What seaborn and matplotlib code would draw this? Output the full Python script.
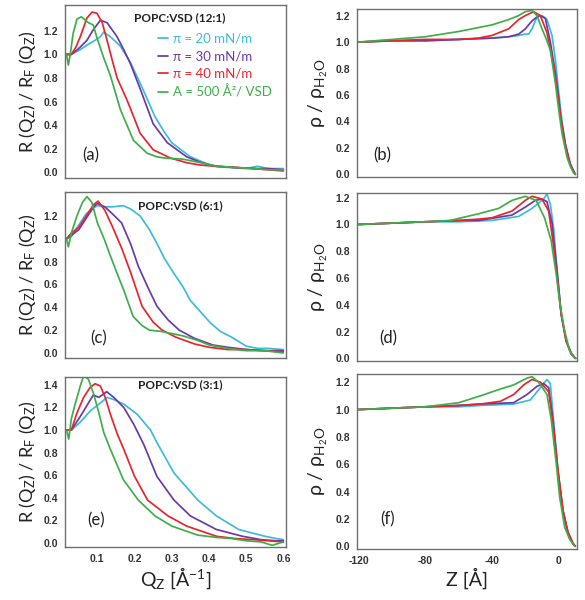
import matplotlib
matplotlib.use("Agg")
import matplotlib.pyplot as plt
import seaborn as sns
import pandas as pd

# ---------------- data ----------------
series = ["π = 20 mN/m", "π = 30 mN/m", "π = 40 mN/m", "A = 500 Å²/ VSD"]
colors = ["#3dbbdc", "#6a3aa8", "#e8252d", "#3fae4a"]
panel_titles = ["POPC:VSD (12:1)", "POPC:VSD (6:1)", "POPC:VSD (3:1)"]
left_letters = ["(a)", "(c)", "(e)"]
right_letters = ["(b)", "(d)", "(f)"]

# panel (a): reflectivity, 12:1
a_q_cyan = [0.017, 0.03, 0.054, 0.072, 0.089, 0.108, 0.117, 0.135, 0.162, 0.189, 0.207, 0.23, 0.255, 0.28, 0.3, 0.35, 0.41, 0.45, 0.5, 0.53, 0.56, 0.6]
a_r_cyan = [1.00, 1.00, 1.04, 1.08, 1.11, 1.15, 1.19, 1.15, 1.07, 0.93, 0.81, 0.65, 0.47, 0.34, 0.25, 0.13, 0.05, 0.04, 0.03, 0.05, 0.03, 0.03]
a_q_purple = [0.017, 0.03, 0.05, 0.072, 0.089, 0.108, 0.126, 0.153, 0.171, 0.189, 0.216, 0.25, 0.288, 0.34, 0.38, 0.42, 0.47, 0.52, 0.56, 0.6]
a_r_purple = [1.00, 1.00, 1.05, 1.12, 1.21, 1.29, 1.27, 1.15, 1.04, 0.92, 0.70, 0.41, 0.25, 0.13, 0.08, 0.05, 0.04, 0.03, 0.03, 0.02]
a_q_red = [0.017, 0.03, 0.042, 0.054, 0.072, 0.086, 0.099, 0.113, 0.126, 0.14, 0.153, 0.18, 0.215, 0.25, 0.296, 0.34, 0.376, 0.42, 0.466, 0.52, 0.56, 0.6]
a_r_red = [1.00, 1.00, 1.06, 1.15, 1.31, 1.36, 1.35, 1.27, 1.12, 0.95, 0.80, 0.61, 0.33, 0.19, 0.12, 0.08, 0.06, 0.05, 0.04, 0.03, 0.02, 0.01]
a_q_green = [0.017, 0.022, 0.027, 0.035, 0.045, 0.057, 0.068, 0.076, 0.089, 0.098, 0.116, 0.135, 0.162, 0.197, 0.234, 0.26, 0.28, 0.33, 0.377, 0.42, 0.466, 0.52, 0.56, 0.6]
a_r_green = [1.00, 0.91, 1.00, 1.18, 1.30, 1.32, 1.29, 1.27, 1.25, 1.15, 0.98, 0.82, 0.53, 0.27, 0.16, 0.13, 0.12, 0.11, 0.08, 0.05, 0.04, 0.03, 0.02, 0.02]

# panel (c): reflectivity, 6:1
c_q_cyan = [0.017, 0.03, 0.05, 0.07, 0.09, 0.1, 0.12, 0.14, 0.17, 0.19, 0.215, 0.24, 0.26, 0.28, 0.305, 0.33, 0.35, 0.38, 0.405, 0.43, 0.46, 0.5, 0.53, 0.56, 0.6]
c_r_cyan = [1.00, 1.02, 1.12, 1.22, 1.27, 1.29, 1.28, 1.28, 1.29, 1.26, 1.20, 1.08, 0.96, 0.83, 0.70, 0.58, 0.46, 0.35, 0.26, 0.19, 0.14, 0.06, 0.04, 0.04, 0.03]
c_q_purple = [0.017, 0.03, 0.05, 0.07, 0.09, 0.1, 0.12, 0.14, 0.165, 0.19, 0.21, 0.235, 0.26, 0.29, 0.32, 0.36, 0.41, 0.45, 0.5, 0.55, 0.6]
c_r_purple = [1.00, 1.03, 1.08, 1.18, 1.28, 1.31, 1.28, 1.22, 1.14, 0.95, 0.76, 0.58, 0.41, 0.29, 0.20, 0.13, 0.07, 0.05, 0.03, 0.02, 0.02]
c_q_red = [0.017, 0.03, 0.05, 0.07, 0.09, 0.102, 0.12, 0.14, 0.165, 0.19, 0.22, 0.25, 0.274, 0.31, 0.36, 0.4, 0.45, 0.5, 0.55, 0.6]
c_r_red = [1.00, 1.05, 1.10, 1.20, 1.30, 1.33, 1.25, 1.11, 0.92, 0.70, 0.41, 0.27, 0.20, 0.14, 0.08, 0.05, 0.03, 0.03, 0.02, 0.01]
c_q_green = [0.017, 0.022, 0.03, 0.045, 0.06, 0.072, 0.085, 0.1, 0.118, 0.135, 0.155, 0.171, 0.196, 0.22, 0.24, 0.27, 0.3, 0.33, 0.37, 0.4, 0.45, 0.5, 0.55, 0.6]
c_r_green = [1.00, 0.93, 1.05, 1.20, 1.32, 1.37, 1.32, 1.14, 1.00, 0.85, 0.68, 0.55, 0.32, 0.24, 0.20, 0.19, 0.17, 0.15, 0.11, 0.07, 0.04, 0.02, 0.02, 0.00]

# panel (e): reflectivity, 3:1
e_q_cyan = [0.017, 0.03, 0.054, 0.081, 0.108, 0.126, 0.144, 0.171, 0.207, 0.243, 0.26, 0.306, 0.37, 0.42, 0.48, 0.55, 0.58, 0.6]
e_r_cyan = [1.00, 1.00, 1.07, 1.17, 1.24, 1.29, 1.27, 1.23, 1.14, 1.00, 0.89, 0.62, 0.38, 0.24, 0.12, 0.06, 0.04, 0.03]
e_q_purple = [0.017, 0.03, 0.054, 0.076, 0.089, 0.1035, 0.117, 0.125, 0.144, 0.171, 0.198, 0.225, 0.26, 0.306, 0.35, 0.42, 0.49, 0.54, 0.58, 0.6]
e_r_purple = [1.00, 1.00, 1.12, 1.24, 1.31, 1.29, 1.32, 1.34, 1.29, 1.20, 1.05, 0.87, 0.59, 0.38, 0.24, 0.12, 0.06, 0.03, 0.02, 0.02]
e_q_red = [0.017, 0.03, 0.045, 0.063, 0.081, 0.094, 0.108, 0.121, 0.135, 0.153, 0.171, 0.2, 0.235, 0.29, 0.34, 0.42, 0.47, 0.52, 0.56, 0.6]
e_r_red = [1.00, 1.00, 1.15, 1.29, 1.38, 1.41, 1.39, 1.29, 1.14, 0.97, 0.83, 0.59, 0.38, 0.24, 0.15, 0.06, 0.04, 0.03, 0.02, 0.01]
e_q_green = [0.017, 0.023, 0.03, 0.041, 0.054, 0.063, 0.076, 0.089, 0.1035, 0.117, 0.135, 0.17, 0.21, 0.255, 0.3, 0.37, 0.42, 0.46, 0.5, 0.54, 0.57, 0.6]
e_r_green = [1.00, 0.92, 1.10, 1.24, 1.39, 1.48, 1.45, 1.33, 1.16, 0.98, 0.83, 0.56, 0.38, 0.24, 0.15, 0.07, 0.05, 0.04, 0.02, 0.01, -0.02, 0.01]

# panel (b): density, 12:1
b_z_cyan = [-120, -100, -80, -60, -40, -30, -24, -20, -18, -16, -13, -10, -7, -4, -2, 0, 2, 4, 6, 8, 10]
b_d_cyan = [1.00, 1.01, 1.01, 1.02, 1.03, 1.04, 1.05, 1.06, 1.06, 1.10, 1.19, 1.20, 1.17, 1.05, 0.87, 0.62, 0.40, 0.23, 0.11, 0.04, 0.00]
b_z_purple = [-120, -100, -80, -60, -40, -30, -24, -20, -16, -13, -11, -8, -5, -2, 0, 1, 4, 7, 10]
b_d_purple = [1.00, 1.01, 1.01, 1.02, 1.03, 1.04, 1.06, 1.10, 1.16, 1.19, 1.20, 1.18, 1.00, 0.77, 0.58, 0.45, 0.23, 0.08, 0.00]
b_z_red = [-120, -100, -80, -60, -48, -40, -36, -30, -24, -20, -15, -11, -7, -3, 0, 2, 4, 6, 8, 10]
b_d_red = [1.00, 1.01, 1.02, 1.02, 1.03, 1.05, 1.07, 1.10, 1.17, 1.20, 1.23, 1.20, 1.07, 0.82, 0.55, 0.36, 0.22, 0.11, 0.04, 0.00]
b_z_green = [-120, -100, -80, -60, -48, -40, -30, -24, -20, -16, -13, -10, -8, -5, -2, 0, 2, 5, 7, 9, 10]
b_d_green = [1.00, 1.02, 1.04, 1.08, 1.11, 1.13, 1.17, 1.20, 1.23, 1.24, 1.20, 1.10, 1.04, 0.94, 0.69, 0.49, 0.31, 0.13, 0.06, 0.01, 0.00]

# panel (d): density, 6:1
d_z_cyan = [-120, -100, -80, -60, -40, -24, -16, -9, -7, -5, -3, -1, 1.5, 4.5, 7.5, 10]
d_d_cyan = [1.00, 1.01, 1.02, 1.02, 1.03, 1.06, 1.12, 1.19, 1.23, 1.15, 0.97, 0.66, 0.33, 0.13, 0.04, 0.00]
d_z_purple = [-120, -100, -80, -60, -48, -28, -20, -14, -10, -7, -4, -1, 1.5, 4.5, 7.5, 10]
d_d_purple = [1.00, 1.01, 1.02, 1.03, 1.03, 1.07, 1.13, 1.18, 1.19, 1.17, 1.01, 0.66, 0.33, 0.13, 0.04, 0.00]
d_z_red = [-120, -100, -80, -60, -48, -40, -28, -20, -16, -10, -6, -3.5, -0.5, 1.5, 4.5, 7.5, 10]
d_d_red = [1.00, 1.01, 1.02, 1.03, 1.04, 1.05, 1.10, 1.18, 1.21, 1.19, 1.10, 0.88, 0.56, 0.33, 0.13, 0.03, 0.00]
d_z_green = [-120, -100, -80, -65, -60, -48, -36, -28, -20, -13.5, -8.5, -4.5, -1.5, 0.5, 3.5, 6.5, 9.5, 10.5]
d_d_green = [1.00, 1.01, 1.02, 1.03, 1.045, 1.08, 1.12, 1.18, 1.21, 1.18, 1.05, 0.88, 0.63, 0.43, 0.21, 0.06, 0.00, 0.00]

# panel (f): density, 3:1
f_z_cyan = [-120, -100, -80, -60, -47, -27, -17, -11, -7, -5, -3.4, -0.4, 2.6, 5.6, 8.6, 10]
f_d_cyan = [1.00, 1.01, 1.02, 1.02, 1.03, 1.04, 1.07, 1.16, 1.22, 1.19, 0.97, 0.55, 0.26, 0.10, 0.02, 0.00]
f_z_purple = [-120, -100, -80, -60, -47, -27, -19, -13, -9, -6, -3.4, -0.4, 2.6, 5.6, 8.6, 10]
f_d_purple = [1.00, 1.01, 1.02, 1.03, 1.04, 1.05, 1.11, 1.17, 1.19, 1.16, 0.92, 0.55, 0.26, 0.10, 0.02, 0.00]
f_z_red = [-120, -100, -80, -60, -47, -35, -27, -21, -16, -11, -6, -3.4, -0.4, 2.6, 5.6, 8.6, 10]
f_d_red = [1.00, 1.01, 1.02, 1.03, 1.04, 1.06, 1.11, 1.18, 1.22, 1.20, 1.13, 0.90, 0.55, 0.26, 0.10, 0.02, 0.00]
f_z_green = [-120, -100, -80, -60, -47, -35, -27, -19, -16, -12, -7, -4.4, -1.4, 0.6, 3.6, 6.6, 9.6]
f_d_green = [1.00, 1.01, 1.02, 1.05, 1.10, 1.15, 1.18, 1.23, 1.24, 1.20, 1.11, 0.92, 0.60, 0.36, 0.14, 0.05, 0.00]

left_ticks_x = [0.1, 0.2, 0.3, 0.4, 0.5, 0.6]
right_ticks_x = [-120, -80, -40, 0]
right_minor_x = [-100, -60, -20]


def long_frame(pairs):
    frames = []
    for name, (xs, ys) in zip(series, pairs):
        frames.append(pd.DataFrame({"x": xs, "y": ys, "series": name}))
    return pd.concat(frames, ignore_index=True)


left_data = [
    long_frame([(a_q_cyan, a_r_cyan), (a_q_purple, a_r_purple), (a_q_red, a_r_red), (a_q_green, a_r_green)]),
    long_frame([(c_q_cyan, c_r_cyan), (c_q_purple, c_r_purple), (c_q_red, c_r_red), (c_q_green, c_r_green)]),
    long_frame([(e_q_cyan, e_r_cyan), (e_q_purple, e_r_purple), (e_q_red, e_r_red), (e_q_green, e_r_green)]),
]
right_data = [
    long_frame([(b_z_cyan, b_d_cyan), (b_z_purple, b_d_purple), (b_z_red, b_d_red), (b_z_green, b_d_green)]),
    long_frame([(d_z_cyan, d_d_cyan), (d_z_purple, d_d_purple), (d_z_red, d_d_red), (d_z_green, d_d_green)]),
    long_frame([(f_z_cyan, f_d_cyan), (f_z_purple, f_d_purple), (f_z_red, f_d_red), (f_z_green, f_d_green)]),
]

# ---------------- style ----------------
sns.set_style("white")
plt.rcParams["font.family"] = ["Lato", "DejaVu Sans"]
plt.rcParams["mathtext.default"] = "regular"
palette = dict(zip(series, colors))
spine_col = "#6e6e6e"
tick_font = dict(family=["Liberation Sans", "DejaVu Sans"], size=7.5, weight="bold")

fig = plt.figure(figsize=(5.85, 6.0), dpi=100)
W, H = 585.0, 600.0

left_boxes = [(65, 5, 286, 178), (65, 192, 286, 358), (65, 377, 286, 547)]
right_boxes = [(357, 9, 577, 177), (357, 193, 577, 361), (357, 374, 577, 549)]
left_ylims = [(-0.05, 1.42), (-0.044, 1.41), (-0.035, 1.47)]
right_ylims = [(-0.02, 1.25), (-0.02, 1.235), (-0.02, 1.26)]
title_y = [0.925, 0.92, 0.955]
left_letter_pos = [(0.115, 0.13), (0.15, 0.12), (0.14, 0.155)]
right_letter_pos = [(0.115, 0.13), (0.14, 0.135), (0.14, 0.17)]


def add_ax(box):
    x0, y0, x1, y1 = box
    return fig.add_axes([x0 / W, 1 - y1 / H, (x1 - x0) / W, (y1 - y0) / H])


def style_ax(ax):
    for s in ax.spines.values():
        s.set_visible(True)
        s.set_color(spine_col)
        s.set_linewidth(1.0)
    ax.tick_params(direction="out", length=3, width=0.9, color=spine_col,
                   labelcolor="#333333", pad=2)
    for lab in ax.get_xticklabels() + ax.get_yticklabels():
        lab.set_fontfamily(tick_font["family"])
        lab.set_fontsize(tick_font["size"])
        lab.set_fontweight(tick_font["weight"])


for i in range(3):
    # ---------- left: reflectivity ----------
    ax = add_ax(left_boxes[i])
    sns.lineplot(data=left_data[i], x="x", y="y", hue="series", palette=palette,
                 hue_order=series, estimator=None, sort=False, linewidth=1.25,
                 legend=(i == 0), ax=ax)
    ax.set_xlim(0.013, 0.607)
    ax.set_ylim(*left_ylims[i])
    ax.set_xticks(left_ticks_x)
    ymax_tick = 1.4 if i == 2 else 1.2
    yt = [round(0.2 * k, 1) for k in range(int(round(ymax_tick / 0.2)) + 1)]
    ax.set_yticks(yt)
    ax.set_yticklabels([f"{v:.1f}" for v in yt])
    if i == 2:
        ax.set_xticklabels([f"{v:.1f}" for v in left_ticks_x])
        ax.set_xlabel(r"Q$_Z$ [Å$^{-1}$]", fontsize=14, color="#222222", labelpad=1)
    else:
        ax.set_xticklabels([])
        ax.set_xlabel("")
    ax.set_ylabel(r"R (Q$_Z$) / R$_F$ (Q$_Z$)", fontsize=13, color="#222222", labelpad=4)
    style_ax(ax)
    ax.text(0.52, title_y[i], panel_titles[i], transform=ax.transAxes, ha="center",
            va="center", fontsize=8.5, fontweight="bold", color="#222222")
    ax.text(*left_letter_pos[i], left_letters[i], transform=ax.transAxes, ha="center",
            va="center", fontsize=12, color="#222222")
    if i == 0:
        leg = ax.legend(loc="upper left", bbox_to_anchor=(0.42, 0.84), frameon=False,
                        handlelength=0.8, handletextpad=0.35, labelspacing=0.42,
                        fontsize=9.5, borderaxespad=0, borderpad=0)
        for txt, c in zip(leg.get_texts(), colors):
            txt.set_color(c)

    # ---------- right: density ----------
    ax = add_ax(right_boxes[i])
    sns.lineplot(data=right_data[i], x="x", y="y", hue="series", palette=palette,
                 hue_order=series, estimator=None, sort=False, linewidth=1.25,
                 legend=False, ax=ax)
    ax.set_xlim(-121, 11)
    ax.set_ylim(*right_ylims[i])
    ax.set_xticks(right_ticks_x)
    ax.set_xticks(right_minor_x, minor=True)
    ax.tick_params(which="minor", direction="out", length=3, width=0.9, color=spine_col)
    yt = [round(0.2 * k, 1) for k in range(7)]
    ax.set_yticks(yt)
    ax.set_yticklabels([f"{v:.1f}" for v in yt])
    if i == 2:
        ax.set_xticklabels([str(v) for v in right_ticks_x])
        ax.set_xlabel("Z [Å]", fontsize=14, color="#222222", labelpad=1)
    else:
        ax.set_xticklabels([])
        ax.set_xlabel("")
    ax.set_ylabel(r"ρ / ρ$_{H_2O}$", fontsize=14, color="#222222", labelpad=4)
    style_ax(ax)
    ax.text(*right_letter_pos[i], right_letters[i], transform=ax.transAxes, ha="center",
            va="center", fontsize=12, color="#222222")

fig.savefig("out.png", dpi=100)
